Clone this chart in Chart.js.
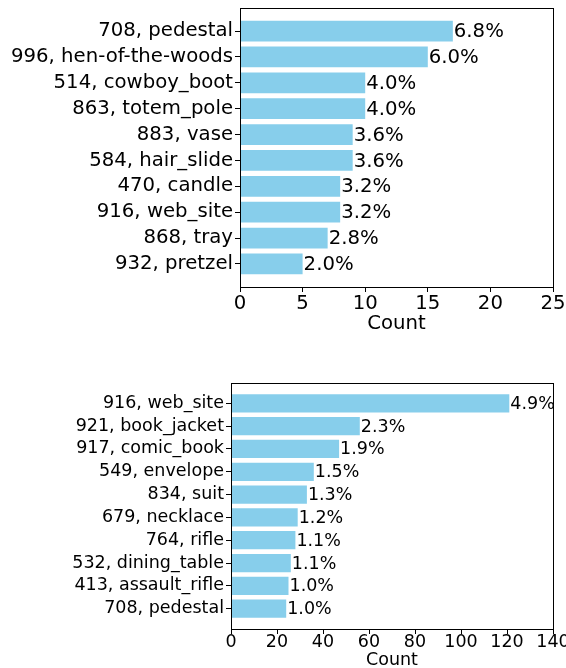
<!DOCTYPE html>
<html>
<head>
<meta charset="utf-8">
<script src="https://cdn.jsdelivr.net/npm/chart.js@4"></script>
<style>
  html, body { margin: 0; padding: 0; background: #fff; overflow: hidden; }
  .box { position: absolute; left: 0; width: 566px; }
</style>
</head>
<body>
<div class="box" style="top:0; height:340px;"><canvas id="topChart"></canvas></div>
<div class="box" style="top:340px; height:340px;"><canvas id="bottomChart"></canvas></div>
<script>
// top panel
const topLabels = ['708, pedestal', '996, hen-of-the-woods', '514, cowboy_boot', '863, totem_pole',
  '883, vase', '584, hair_slide', '470, candle', '916, web_site', '868, tray', '932, pretzel'];
const topCounts = [17, 15, 10, 10, 9, 9, 8, 8, 7, 5];
const topPct = ['6.8%', '6.0%', '4.0%', '4.0%', '3.6%', '3.6%', '3.2%', '3.2%', '2.8%', '2.0%'];
const topTicks = [0, 5, 10, 15, 20, 25];

// bottom panel
const bottomLabels = ['916, web_site', '921, book_jacket', '917, comic_book', '549, envelope',
  '834, suit', '679, necklace', '764, rifle', '532, dining_table', '413, assault_rifle', '708, pedestal'];
const bottomCounts = [121, 56, 47, 36, 33, 29, 28, 26, 25, 24];
const bottomPct = ['4.9%', '2.3%', '1.9%', '1.5%', '1.3%', '1.2%', '1.1%', '1.1%', '1.0%', '1.0%'];
const bottomTicks = [0, 20, 40, 60, 80, 100, 120, 140];

const FONT = 'DejaVu Sans';

// value labels at the end of each bar + box around the plot
const barText = {
  id: 'barText',
  afterDatasetsDraw(chart, args, opts) {
    const ctx = chart.ctx;
    const meta = chart.getDatasetMeta(0);
    ctx.save();
    ctx.font = opts.size + 'px "' + FONT + '"';
    ctx.fillStyle = '#000';
    ctx.textAlign = 'left';
    ctx.textBaseline = 'middle';
    meta.data.forEach((bar, i) => {
      ctx.fillText(opts.labels[i], bar.x + 1, bar.y + 1);
    });
    ctx.restore();
  },
  afterDraw(chart) {
    const a = chart.chartArea;
    const ctx = chart.ctx;
    ctx.save();
    ctx.strokeStyle = '#000';
    ctx.lineWidth = 1;
    ctx.strokeRect(Math.round(a.left) + 0.5, Math.round(a.top) + 0.5,
      Math.round(a.right - a.left), Math.round(a.bottom - a.top));
    ctx.restore();
  }
};

function makeChart(id, labels, counts, pcts, ticks, g) {
  const n = labels.length;
  return new Chart(document.getElementById(id), {
    type: 'bar',
    data: {
      datasets: [{
        data: counts.map((c, i) => ({ x: c, y: i })),
        backgroundColor: '#87CEEB',
        borderWidth: 0,
        categoryPercentage: 1,
        barPercentage: 0.8
      }]
    },
    plugins: [barText],
    options: {
      indexAxis: 'y',
      animation: false,
      responsive: true,
      maintainAspectRatio: false,
      layout: { padding: { left: 0, right: g.right, top: g.top, bottom: 0 } },
      plugins: {
        legend: { display: false },
        tooltip: { enabled: false },
        barText: { labels: pcts, size: g.font }
      },
      scales: {
        x: {
          type: 'linear',
          position: 'bottom',
          min: ticks[0],
          max: ticks[ticks.length - 1],
          afterBuildTicks: s => { s.ticks = ticks.map(v => ({ value: v })); },
          afterFit: s => { s.height = g.xh; s.paddingLeft = 0; s.paddingRight = 0; },
          grid: { drawOnChartArea: false, drawTicks: true, tickLength: 5, color: '#000' },
          border: { display: true, color: '#000', width: 1 },
          ticks: { color: '#000', padding: g.xpad, maxRotation: 0, font: { family: FONT, size: g.font } },
          title: {
            display: true, text: 'Count', color: '#000',
            font: { family: FONT, size: g.font, lineHeight: 1.2 },
            padding: { top: 0, bottom: g.tpad }
          }
        },
        y: {
          type: 'linear',
          reverse: true,
          offset: false,
          min: -0.89,
          max: n - 1 + 0.89,
          afterBuildTicks: s => { s.ticks = labels.map((_, i) => ({ value: i })); },
          afterFit: s => { s.width = g.left; s.paddingTop = 0; s.paddingBottom = 0; },
          grid: { offset: false, drawOnChartArea: false, drawTicks: true, tickLength: 5, color: '#000' },
          border: { display: true, color: '#000', width: 1 },
          ticks: {
            color: '#000', padding: 2, autoSkip: false,
            font: { family: FONT, size: g.font },
            callback: v => labels[v]
          }
        }
      }
    }
  });
}

makeChart('topChart', topLabels, topCounts, topPct, topTicks,
  { left: 240, right: 13, top: 8, xh: 53, tpad: 4, xpad: 0, font: 19.7 });
makeChart('bottomChart', bottomLabels, bottomCounts, bottomPct, bottomTicks,
  { left: 231, right: 13, top: 43, xh: 51, tpad: 9, xpad: -2, font: 17.5 });
</script>
</body>
</html>
